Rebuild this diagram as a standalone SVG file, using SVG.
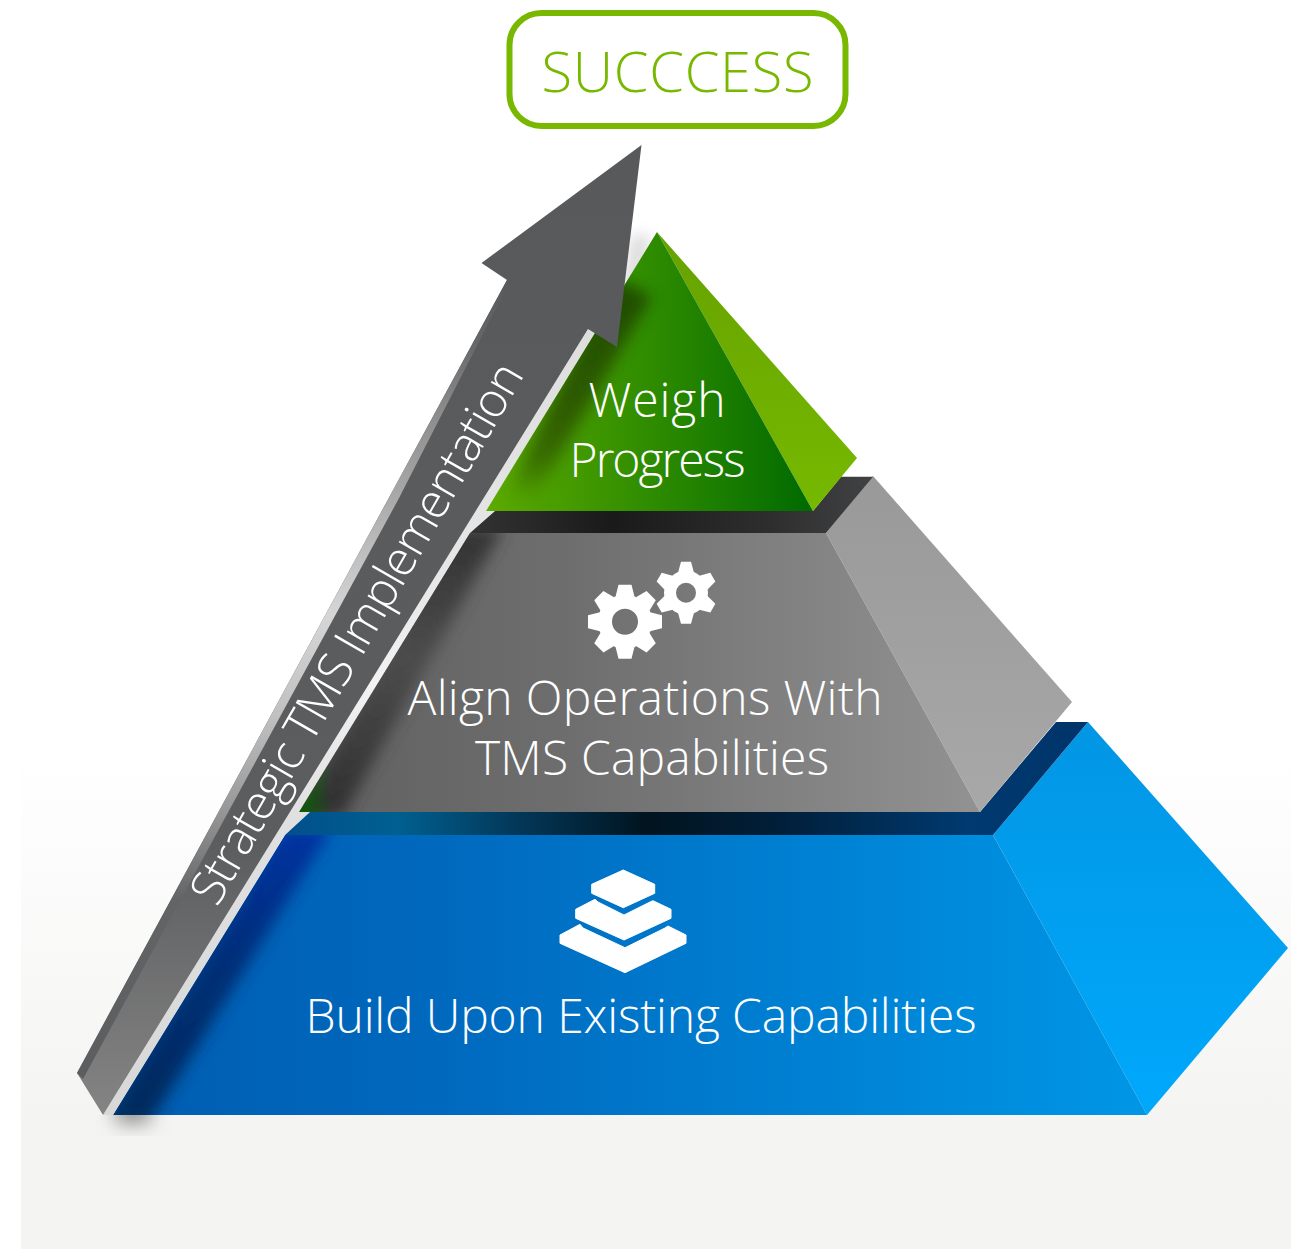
<svg xmlns="http://www.w3.org/2000/svg" width="1291" height="1249" viewBox="0 0 1291 1249">
<style>
text{font-family:"Open Sans","Liberation Sans",sans-serif;font-weight:300;fill:#fff}
.t48{font-size:48px;text-anchor:middle}
.tooth{fill:#fff}
.ico{fill:#fff;stroke:#fff;stroke-width:1;stroke-linejoin:round}
</style>
<defs>
<linearGradient id="bg" x1="0" y1="750" x2="0" y2="1120" gradientUnits="userSpaceOnUse"><stop offset="0" stop-color="#fff"/><stop offset="1" stop-color="#f4f4f3"/></linearGradient>
<linearGradient id="gFront" x1="486" y1="0" x2="813" y2="0" gradientUnits="userSpaceOnUse"><stop offset="0" stop-color="#5cab00"/><stop offset=".5" stop-color="#2f8c00"/><stop offset="1" stop-color="#006a00"/></linearGradient>
<linearGradient id="gSide" x1="0" y1="232" x2="0" y2="511" gradientUnits="userSpaceOnUse"><stop offset="0" stop-color="#66a200"/><stop offset="1" stop-color="#76b900"/></linearGradient>
<linearGradient id="gShade" x1="0" y1="290" x2="0" y2="500" gradientUnits="userSpaceOnUse"><stop offset="0" stop-color="#1f4c00"/><stop offset=".6" stop-color="#2f5c00"/><stop offset=".8" stop-color="#386c00"/><stop offset="1" stop-color="#386c00" stop-opacity="0"/></linearGradient>
<linearGradient id="shelf1" x1="470" y1="0" x2="873" y2="0" gradientUnits="userSpaceOnUse"><stop offset="0" stop-color="#333"/><stop offset=".35" stop-color="#1a1a1a"/><stop offset=".75" stop-color="#2e2e2e"/><stop offset="1" stop-color="#414244"/></linearGradient>
<linearGradient id="mFront" x1="300" y1="0" x2="980" y2="0" gradientUnits="userSpaceOnUse"><stop offset="0" stop-color="#606060"/><stop offset=".4" stop-color="#6e6e6e"/><stop offset="1" stop-color="#929292"/></linearGradient>
<linearGradient id="mShade" x1="0" y1="533" x2="0" y2="812" gradientUnits="userSpaceOnUse"><stop offset="0" stop-color="#333"/><stop offset=".45" stop-color="#4c4c4c"/><stop offset="1" stop-color="#303030"/></linearGradient>
<linearGradient id="mSide" x1="0" y1="476" x2="0" y2="812" gradientUnits="userSpaceOnUse"><stop offset="0" stop-color="#999"/><stop offset="1" stop-color="#a8a8a8"/></linearGradient>
<linearGradient id="shelf2" x1="285" y1="0" x2="1088" y2="0" gradientUnits="userSpaceOnUse"><stop offset="0" stop-color="#014f8c"/><stop offset=".14" stop-color="#006090"/><stop offset=".28" stop-color="#033a5c"/><stop offset=".45" stop-color="#01141f"/><stop offset=".62" stop-color="#011f3a"/><stop offset=".85" stop-color="#003a70"/><stop offset="1" stop-color="#00346a"/></linearGradient>
<linearGradient id="bFront" x1="113" y1="0" x2="1147" y2="0" gradientUnits="userSpaceOnUse"><stop offset="0" stop-color="#005db0"/><stop offset=".3" stop-color="#0068bd"/><stop offset="1" stop-color="#0096e6"/></linearGradient>
<linearGradient id="bSide" x1="0" y1="722" x2="0" y2="1115" gradientUnits="userSpaceOnUse"><stop offset="0" stop-color="#0296e4"/><stop offset="1" stop-color="#00a8fc"/></linearGradient>
<linearGradient id="bShade" x1="0" y1="835" x2="0" y2="1115" gradientUnits="userSpaceOnUse"><stop offset="0" stop-color="#0030a0"/><stop offset=".45" stop-color="#002f78"/><stop offset="1" stop-color="#00295c"/></linearGradient>
<linearGradient id="body" x1="0" y1="146" x2="0" y2="1115" gradientUnits="userSpaceOnUse"><stop offset="0" stop-color="#58595b"/><stop offset=".72" stop-color="#5c5d5f"/><stop offset="1" stop-color="#848484"/></linearGradient>
<linearGradient id="edge" x1="0" y1="280" x2="0" y2="1075" gradientUnits="userSpaceOnUse"><stop offset="0" stop-color="#58595b"/><stop offset=".08" stop-color="#666769"/><stop offset=".16" stop-color="#8a8a8a"/><stop offset=".28" stop-color="#ababab"/><stop offset=".42" stop-color="#d6d6d6"/><stop offset=".55" stop-color="#c0c0c0"/><stop offset=".66" stop-color="#9a9a9a"/><stop offset=".78" stop-color="#636466"/><stop offset="1" stop-color="#5c5d5f"/></linearGradient>
<linearGradient id="band" x1="0" y1="329" x2="0" y2="1115" gradientUnits="userSpaceOnUse"><stop offset="0" stop-color="#dedede"/><stop offset=".3" stop-color="#e6e6e6"/><stop offset=".45" stop-color="#f2f2f2"/><stop offset=".62" stop-color="#e0e0e0"/><stop offset="1" stop-color="#d8d8d8"/></linearGradient>
<linearGradient id="corner" x1="299" y1="0" x2="332" y2="0" gradientUnits="userSpaceOnUse"><stop offset="0" stop-color="#065a00"/><stop offset="1" stop-color="#065a00" stop-opacity="0"/></linearGradient>
<filter id="b8" x="-50%" y="-50%" width="200%" height="200%"><feGaussianBlur stdDeviation="8"/></filter>
<filter id="b7" x="-50%" y="-50%" width="200%" height="200%"><feGaussianBlur stdDeviation="7"/></filter>
<filter id="b9" x="-100%" y="-100%" width="300%" height="300%"><feGaussianBlur stdDeviation="10"/></filter>
<clipPath id="cGreen"><polygon points="657,232 486,511 813,511"/></clipPath>
<clipPath id="cMid"><polygon points="470,533 826,533 980,812 299,812"/></clipPath>
<clipPath id="cBlue"><polygon points="285,835 993,835 1147,1115 113,1115"/></clipPath>
<clipPath id="cFloor"><rect x="95" y="1115" width="100" height="21"/></clipPath>
<polygon id="tL" class="tooth" points="-9.5,-25 -6.5,-37 6.5,-37 9.5,-25"/>
<polygon id="tS" class="tooth" points="-8,-20 -5,-31 5,-31 8,-20"/>
</defs>
<rect id="background" x="21" y="750" width="1270" height="499" fill="url(#bg)"/>
<g id="shadows">
<g clip-path="url(#cFloor)"><rect x="116" y="1100" width="34" height="22" fill="#808080" filter="url(#b9)"/></g>
<polygon points="632,235 650,235 640,290 622,290" fill="#999" opacity=".35" filter="url(#b7)"/>
</g>
<g id="tier-blue">
<polygon points="993,835 1088,722 1288,948 1147,1115" fill="url(#bSide)"/>
<polygon points="285,835 993,835 1147,1115 113,1115" fill="url(#bFront)"/>
<g clip-path="url(#cBlue)"><polygon points="100,1126 148,1126 332,828 282,828" fill="url(#bShade)" filter="url(#b8)"/></g>
<g id="icon-layers" class="ico">
<polygon points="623.3,870 654.7,884.3 654.7,893.3 623.3,907.7 591.7,893.3 591.7,884.3"/>
<polygon points="595,899.3 598,902 624,915 650,902 653,900.7 671,909.3 671,918.3 624,940 575.7,918.3 575.7,909.3"/>
<polygon points="580,924.3 583,928 625,947.7 665,928 668,926 686,935 686,943.3 625,972.7 560,943.3 560,935"/>
</g>
<text class="t48" x="641" y="1033" textLength="671">Build Upon Existing Capabilities</text>
</g>
<g id="band-light"><polygon points="103,1115 113,1115 285,835 310,812 299,812 470,533 495,511 486,511 598,331 588,329" fill="url(#band)"/></g>
<g id="shelf-lower"><polygon points="285,835 310,812 980,812 1056,722 1088,722 993,835" fill="url(#shelf2)"/></g>
<g id="tier-gray">
<polygon points="826,533 873,476 1072,702 980,812" fill="url(#mSide)"/>
<polygon points="470,533 826,533 980,812 299,812" fill="url(#mFront)"/>
<g clip-path="url(#cMid)"><polygon points="295,818 342,818 503,528 452,528" fill="url(#mShade)" filter="url(#b8)"/>
<polygon points="299,813 328,765 335,765 335,813" fill="url(#corner)"/></g>
<g id="icon-gears">
<g transform="translate(625,621.7)"><circle r="20" fill="none" stroke="#fff" stroke-width="14"/>
<use href="#tL"/><use href="#tL" transform="rotate(45)"/><use href="#tL" transform="rotate(90)"/><use href="#tL" transform="rotate(135)"/><use href="#tL" transform="rotate(180)"/><use href="#tL" transform="rotate(225)"/><use href="#tL" transform="rotate(270)"/><use href="#tL" transform="rotate(315)"/></g>
<g transform="translate(686,592.7)"><circle r="16" fill="none" stroke="#fff" stroke-width="12"/>
<use href="#tS"/><use href="#tS" transform="rotate(60)"/><use href="#tS" transform="rotate(120)"/><use href="#tS" transform="rotate(180)"/><use href="#tS" transform="rotate(240)"/><use href="#tS" transform="rotate(300)"/></g>
</g>
<text class="t48" x="645" y="715" textLength="475">Align Operations With</text>
<text class="t48" x="652" y="775" textLength="354">TMS Capabilities</text>
</g>
<g id="shelf-upper"><polygon points="470,533 495,511 813,511 841,476.7 873,476.7 826,533" fill="url(#shelf1)"/></g>
<g id="tier-green">
<polygon points="657,232 857,458 813,511" fill="url(#gSide)"/>
<polygon points="657,232 486,511 813,511" fill="url(#gFront)"/>
<g clip-path="url(#cGreen)"><polygon points="503,505 532,505 652,296 610,276" fill="url(#gShade)" filter="url(#b8)"/></g>
<text class="t48" x="657" y="417" textLength="137">Weigh</text>
<text class="t48" x="657.500" y="477" textLength="176">Progress</text>
</g>
<g id="arrow">
<polygon points="641.500,145 481.500,263 507,280 77,1073 103,1115 588,329 617,347" fill="url(#body)"/>
<polygon points="507,280 77,1073 83,1079 398,500 509,283" fill="url(#edge)"/>
<text transform="translate(217,908) rotate(-60)" font-size="48" textLength="616">Strategic TMS Implementation</text>
</g>
<g id="success">
<rect x="509.500" y="13" width="336" height="113" rx="32" fill="#fff" stroke="#78b800" stroke-width="6"/>
<text x="677.500" y="92" font-size="56" text-anchor="middle" style="fill:#78b800" textLength="272">SUCCCESS</text>
</g>
</svg>
